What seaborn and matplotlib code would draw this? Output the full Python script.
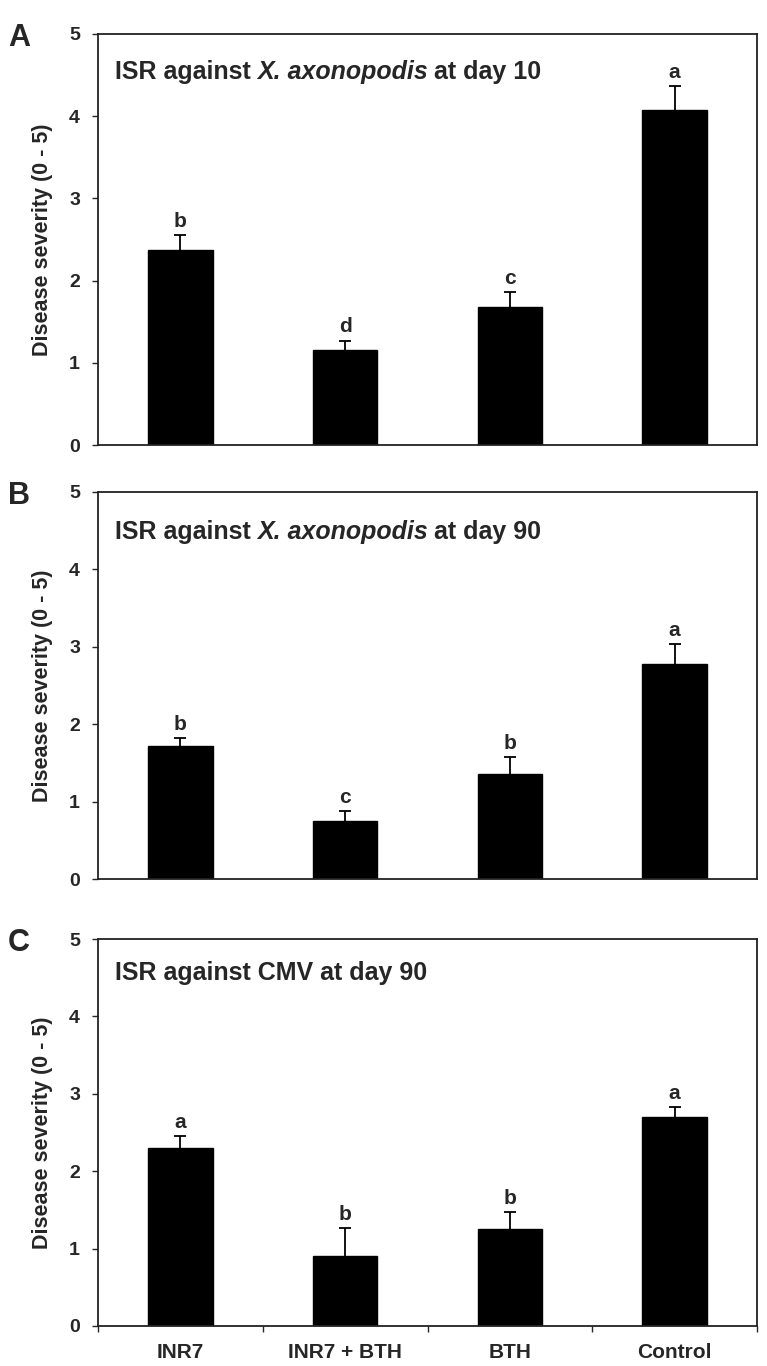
import numpy as np
import pandas as pd
import matplotlib
matplotlib.use("Agg")
import matplotlib.pyplot as plt
import seaborn as sns

# data
treatments = ["INR7", "INR7 + BTH", "BTH", "Control"]

sev_a = [2.37, 1.16, 1.68, 4.08]
err_a = [0.18, 0.11, 0.18, 0.29]
let_a = ["b", "d", "c", "a"]

sev_b = [1.72, 0.75, 1.36, 2.78]
err_b = [0.10, 0.13, 0.22, 0.26]
let_b = ["b", "c", "b", "a"]

sev_c = [2.30, 0.90, 1.25, 2.70]
err_c = [0.16, 0.37, 0.22, 0.13]
let_c = ["a", "b", "b", "a"]

sns.set_style("ticks")
plt.rcParams["font.family"] = ["Liberation Sans", "DejaVu Sans"]
plt.rcParams["font.weight"] = "bold"

fig = plt.figure(figsize=(7.67, 13.66), dpi=100)

W = 767.0
H = 1366.0
panels = [
    # letter, title parts, values, errors, letters, top px, bottom px, title y
    ("A", ("ISR against", "X. axonopodis", "at day 10"), sev_a, err_a, let_a, 34, 445, 0.907),
    ("B", ("ISR against", "X. axonopodis", "at day 90"), sev_b, err_b, let_b, 492, 879, 0.897),
    ("C", ("ISR against CMV at day 90", None, None), sev_c, err_c, let_c, 939, 1326, 0.912),
]

for tag, title, sev, err, lets, top, bot, ty in panels:
    ax = fig.add_axes([98 / W, (H - bot) / H, 659 / W, (bot - top) / H])
    df = pd.DataFrame({"treatment": treatments, "severity": sev})
    sns.barplot(data=df, x="treatment", y="severity", color="black",
                saturation=1, width=0.39, ax=ax)
    for p in ax.patches:
        p.set_edgecolor("black")
    ax.errorbar(np.arange(4), sev, yerr=err, fmt="none", ecolor="black",
                elinewidth=1.3, capsize=4, capthick=1.3)
    for x, (v, e, l) in enumerate(zip(sev, err, lets)):
        ax.text(x, v + e + 0.1, l, ha="center", va="baseline",
                fontsize=15, fontweight="bold")

    ax.set_ylim(0, 5)
    ax.set_xlim(-0.5, 3.5)
    ax.set_yticks(range(6))
    ax.set_yticklabels([str(t) for t in range(6)])
    ax.tick_params(axis="y", direction="out", length=4, width=1,
                   labelsize=14, pad=9)
    for lab in ax.get_yticklabels():
        lab.set_fontweight("bold")
    for s in ax.spines.values():
        s.set_visible(True)
        s.set_linewidth(1.3)
        s.set_color("#222222")

    if tag == "C":
        ax.set_xticks(np.arange(4))
        ax.set_xticklabels(treatments)
        ax.tick_params(axis="x", which="major", length=0, labelsize=15, pad=12)
        for lab in ax.get_xticklabels():
            lab.set_fontweight("bold")
        ax.set_xticks(np.arange(-0.5, 4, 1), minor=True)
        ax.tick_params(axis="x", which="minor", direction="out", length=4, width=1)
    else:
        ax.set_xticks([])
    ax.set_xlabel("")
    ax.set_ylabel("Disease severity (0 - 5)", fontsize=15.5, fontweight="bold")
    ax.yaxis.set_label_coords(-0.068, 0.5)

    # title inside the axes, with the species name in italics
    t1 = ax.text(0.026, ty, title[0], transform=ax.transAxes, ha="left",
                 va="center", fontsize=18, fontweight="bold")
    if title[1] is not None:
        t2 = ax.annotate(title[1], xy=(1, 0), xycoords=t1, xytext=(4.5, 0),
                         textcoords="offset points", ha="left", va="bottom",
                         fontsize=18, fontweight="bold", fontstyle="italic")
        ax.annotate(title[2], xy=(1, 0), xycoords=t2, xytext=(4.5, 0),
                    textcoords="offset points", ha="left", va="bottom",
                    fontsize=18, fontweight="bold")

    fig.text(19 / W, (H - top - 4) / H, tag, ha="center", va="center",
             fontsize=22, fontweight="bold")

fig.savefig("out.png", dpi=100)
